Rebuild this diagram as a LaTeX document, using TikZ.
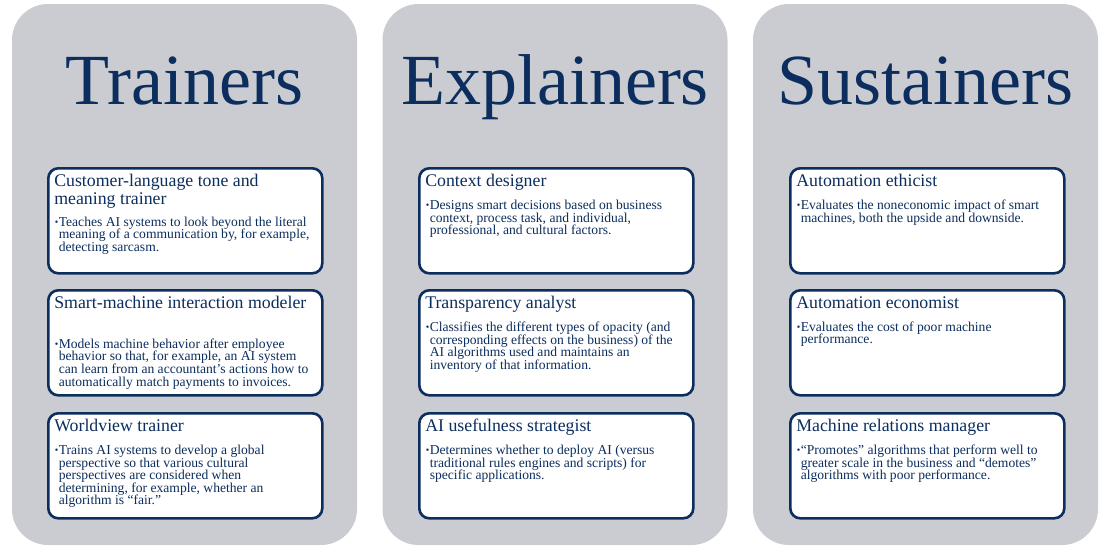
\documentclass[tikz,border=0pt]{standalone}
\usepackage{fontspec}
\setmainfont{Liberation Serif}
\definecolor{navy}{RGB}{12,46,94}
\definecolor{panelgray}{RGB}{203,204,209}
\newcommand{\rolecard}[3][7.4pt]{\parbox[t][93pt][t]{262pt}{\raggedright
  \fontsize{17.8}{16.7}\selectfont\strut #2\par\vspace{#1}
  \fontsize{13.6}{12.6}\selectfont\leftskip=4.5pt
  \noindent\llap{\raisebox{0.8pt}{\fontsize{10}{10}\selectfont\textbullet}\hspace{0.4pt}}#3\par}}
\begin{document}
\begin{tikzpicture}[x=1pt,y=-1pt,
	panel/.style={fill=panelgray,rounded corners=36pt,minimum width=345pt,minimum height=541pt,inner sep=0pt},
	title/.style={anchor=base,text=navy,font=\fontsize{72}{74}\selectfont},
	role/.style={draw=navy,line width=2.6pt,fill=white,rounded corners=10pt,anchor=north west,inner xsep=6pt,inner ysep=6pt,text=navy}]
	\useasboundingbox (0,0) rectangle (1108,552);
	\node[panel](trainers) at (184.5,274.5) {};
	\node[panel](explainers) at (555,274.5) {};
	\node[panel](sustainers) at (925.5,274.5) {};
	\node[title](t1) at (184.5,104) {Trainers};
	\node[title](t2) at (555,104) {Explainers};
	\node[title](t3) at (925.5,104) {Sustainers};
	% trainers
	\node[role](tone) at (47,167) {\rolecard{Customer-language tone and\\meaning trainer}{Teaches AI systems to look beyond the literal\\meaning of a communication by, for example,\\detecting sarcasm.}};
	\node[role](modeler) at (47,289) {\rolecard[24pt]{Smart-machine interaction modeler}{Models machine behavior after employee\\behavior so that, for example, an AI system\\can learn from an accountant’s actions how to\\automatically match payments to invoices.}};
	\node[role](worldview) at (47,412) {\rolecard{Worldview trainer}{Trains AI systems to develop a global\\perspective so that various cultural\\perspectives are considered when\\determining, for example, whether an\\algorithm is “fair.”}};
	% explainers
	\node[role](context) at (418,167) {\rolecard{Context designer}{Designs smart decisions based on business\\context, process task, and individual,\\professional, and cultural factors.}};
	\node[role](transparency) at (418,289) {\rolecard{Transparency analyst}{Classifies the different types of opacity (and\\corresponding effects on the business) of the\\AI algorithms used and maintains an\\inventory of that information.}};
	\node[role](usefulness) at (418,412) {\rolecard{AI usefulness strategist}{Determines whether to deploy AI (versus\\traditional rules engines and scripts) for\\specific applications.}};
	% sustainers
	\node[role](ethicist) at (789,167) {\rolecard{Automation ethicist}{Evaluates the noneconomic impact of smart\\machines, both the upside and downside.}};
	\node[role](economist) at (789,289) {\rolecard{Automation economist}{Evaluates the cost of poor machine\\performance.}};
	\node[role](relations) at (789,412) {\rolecard{Machine relations manager}{“Promotes” algorithms that perform well to\\greater scale in the business and “demotes”\\algorithms with poor performance.}};
\end{tikzpicture}
\end{document}
